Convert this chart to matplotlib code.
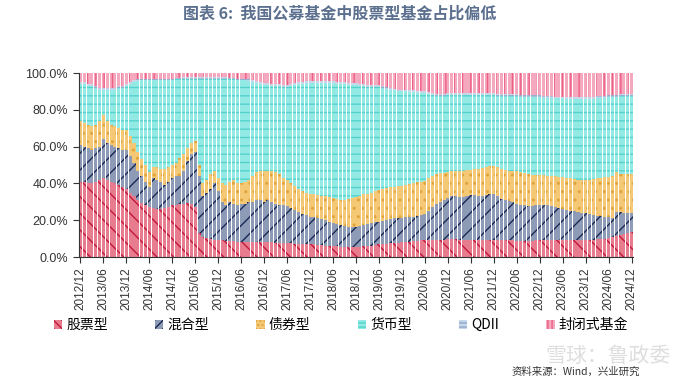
import numpy as np
import matplotlib.pyplot as plt
from matplotlib.patches import Patch

plt.rcParams['font.family'] = ['Noto Sans CJK SC', 'DejaVu Sans']
plt.rcParams['hatch.linewidth'] = 1.0

# monthly share (%) of each fund type, 2012/12 .. 2024/12 (145 months)
stock = [41, 41, 40, 40, 41, 42, 43, 42, 41, 40, 39, 38, 37,
         35, 33, 31, 29.5, 28, 27, 26.5, 26, 26, 26.5, 27, 28,
         28.5, 29, 29, 29.5, 29, 27, 13, 11, 10.5, 10, 9.5, 9.5,
         9, 8.5, 8.5, 8.5, 8, 8, 8, 8, 8, 8, 8, 8,
         8, 8, 7.5, 7.5, 7.5, 7.5, 7.5, 7, 7, 7, 7, 7,
         7, 6.5, 6.5, 6, 6, 6, 6, 5.5, 5.5, 5.5, 5.5, 5.5,
         5.5, 6, 6, 6, 6.5, 7, 7, 7, 7.5, 7.5, 7.5, 8,
         8, 8, 8.5, 8.5, 9, 9, 9, 9.5, 9.5, 9.5, 9.5, 10,
         10, 10, 9.5, 9.5, 9.5, 9.5, 9.5, 9.5, 9.5, 9.5, 9.5, 9.5,
         9.5, 9, 9, 9, 9, 8.5, 8.5, 8.5, 8.5, 8.5, 9, 9,
         9, 9, 9, 9, 9, 9.2, 9.2, 9.2, 9.2, 9.2, 9.2, 9.2,
         9.5, 9.5, 10, 10, 10, 10.5, 11, 11.5, 12, 12.5, 13, 13.5]
mixed = [20, 19, 19, 18, 18, 18, 21, 20, 20, 20, 20, 20, 21,
         20, 18, 16, 14.5, 13, 11, 16.5, 16, 15, 12.5, 14, 15,
         15.5, 15, 18, 22.5, 27, 30, 31, 22, 24.5, 27, 30.5, 26.5,
         21, 19.5, 21.5, 20.5, 20, 21, 21, 22, 22, 23, 23, 22,
         23, 22, 21.5, 21, 20.5, 20, 19, 18.5, 17.5, 16.5, 16, 15,
         14.5, 14.5, 14, 14, 13, 12.5, 12, 12, 11.5, 11, 11, 11,
         11.5, 11.5, 12, 12.5, 12.5, 12, 12.5, 13, 13, 13.5, 13.5, 13,
         13.5, 13.5, 13.5, 14, 14, 14.5, 16, 17.5, 19.5, 20.5, 21.5, 22,
         23, 23, 23, 23, 23.5, 24, 24, 23.5, 23.5, 24, 24.5, 24.5,
         23.5, 22.5, 22, 21.5, 21, 20.5, 20, 19.5, 19, 19, 19, 19.5,
         19.5, 19, 18.5, 18, 17.5, 16.8, 16.3, 15.8, 15.8, 15.3, 14.8, 14.5,
         14, 13.5, 12.5, 12.5, 12, 11, 10, 13, 12.5, 11.5, 11, 10.5]
bond = [13, 13, 13, 13, 13, 14, 13, 12, 11, 11, 11, 11, 11,
        11, 11, 10, 9, 9, 8, 6, 7, 7, 9, 8, 7,
        7, 10, 9, 7, 6, 6, 6, 7, 7, 8, 7, 7,
        10, 11, 11, 13, 12, 11, 12, 12, 14, 15, 16, 17,
        16, 17, 17, 16.5, 15, 14.5, 13.5, 13, 12.5, 12.5, 12, 12.5,
        12.5, 12.5, 12.5, 13, 13.5, 13.5, 13.5, 13.5, 14, 15, 15.5, 16,
        16, 16.5, 16.5, 16.5, 17, 17.5, 17.5, 17.5, 17.5, 17, 17.5, 17.5,
        17.5, 18, 18, 18, 18, 18, 18, 17, 16, 15.5, 14.5, 14,
        13.5, 14, 14.5, 14.5, 14.5, 14, 14.5, 15, 15.5, 15.5, 15.5, 15.5,
        16, 16.5, 16.5, 16.5, 16.5, 17.5, 17.5, 17.5, 17.5, 17, 16.5, 16,
        16, 16, 16.5, 17, 17, 17.5, 17.5, 18, 17.5, 17.5, 18, 18.3,
        18.5, 19.5, 20.5, 20.5, 21.5, 22, 23, 21.5, 20.5, 21, 21, 21]
money = [20, 21, 21, 22, 20, 17, 14, 17, 19, 20, 22, 23, 24,
         28, 33, 38.5, 43, 46, 50, 47, 47, 48, 48, 47, 46,
         45.5, 42.5, 41, 38, 35, 34, 47, 57, 55, 52, 50, 54,
         57, 58, 55.5, 54.5, 56, 56, 55, 53.5, 51, 48.5, 47, 46.5,
         46.5, 46, 47, 48, 49.5, 50.5, 53, 55, 57, 58, 59.5, 60,
         60.5, 61, 61.5, 61.5, 62, 62.5, 62.5, 63, 63, 62, 61.5, 61,
         60, 59, 58, 57.5, 56.5, 56, 55, 54, 53, 52.5, 51.5, 51.5,
         51, 50, 49.5, 48.5, 48, 47.5, 45.5, 44, 42.5, 42, 42, 42,
         41.5, 41, 41, 41, 40.5, 40.5, 40, 40, 39.5, 39, 38.5, 38.5,
         38.5, 39.5, 40, 40.5, 41, 41, 41, 41.5, 42, 42.5, 42.3, 42.3,
         42, 42.5, 42.5, 42.2, 42.7, 42.7, 43, 43, 43.5, 43.8, 43.8, 43.7,
         44, 43.5, 43.5, 43.5, 43, 43.5, 43, 41, 42.5, 42.5, 42.5, 42.5]
qdii = [1, 1, 1, 1, 1, 1, 1, 1, 1, 1, 1, 1, 1,
        1, 1, 1, 1, 1, 1, 1, 1, 1, 1, 1, 1,
        1, 1, 1, 1, 1, 1, 1, 1, 1, 1, 1, 1,
        1, 1, 1, 1, 1, 1, 1, 1, 1, 1, 1, 1,
        1, 1, 1, 1, 1, 1, 1, 1, 1, 1, 1, 1,
        1, 1, 1, 1, 1, 1, 1, 1, 1, 1, 1, 1,
        1, 1, 1, 1, 1, 1, 1, 1, 1, 1, 1, 1,
        1, 1, 1, 1, 1, 1, 1, 1, 1, 1, 1, 1,
        1, 1, 1, 1, 1, 1, 1, 1, 1, 1, 1, 1,
        1, 1, 1, 1, 1, 1, 1, 1, 1, 1, 1, 1,
        1, 1, 1, 1, 1, 1, 1, 1, 1, 1, 1, 1,
        1, 1, 1, 1, 1, 1, 1, 1, 1, 1, 1, 1]
closed = [5, 5, 6, 6, 7, 8, 8, 8, 8, 8, 7, 7, 6,
          5, 4, 3.5, 3, 3, 3, 3, 3, 3, 3, 3, 3,
          2.5, 2.5, 2, 2, 2, 2, 2, 2, 2, 2, 2, 2,
          2, 2, 2.5, 2.5, 3, 3, 3, 3.5, 4, 4.5, 5, 5.5,
          5.5, 6, 6, 6, 6.5, 6.5, 6, 5.5, 5, 5, 4.5, 4.5,
          4.5, 4.5, 4.5, 4.5, 4.5, 4.5, 5, 5, 5, 5.5, 5.5, 5.5,
          6, 6, 6.5, 6.5, 6.5, 6.5, 7, 7.5, 8, 8.5, 9, 9,
          9, 9.5, 9.5, 10, 10, 10, 10.5, 11, 11.5, 11.5, 11.5, 11,
          11, 11, 11, 11, 11, 11, 11, 11, 11, 11, 11, 11,
          11.5, 11.5, 11.5, 11.5, 11.5, 11.5, 12, 12, 12, 12, 12.2, 12.2,
          12.5, 12.5, 12.5, 12.8, 12.8, 12.8, 13, 13, 13, 13.2, 13.2, 13.3,
          13, 13, 12.5, 12.5, 12.5, 12, 12, 12, 11.5, 11.5, 11.5, 11.5]

tick_labels = ['2012/12', '2013/06', '2013/12', '2014/06', '2014/12', '2015/06',
               '2015/12', '2016/06', '2016/12', '2017/06', '2017/12', '2018/06',
               '2018/12', '2019/06', '2019/12', '2020/06', '2020/12', '2021/06',
               '2021/12', '2022/06', '2022/12', '2023/06', '2023/12', '2024/06',
               '2024/12']

names = ['股票型', '混合型', '债券型', '货币型', 'QDII', '封闭式基金']
series = [stock, mixed, bond, money, qdii, closed]
faces = ['#E87C8F', '#8E9BB6', '#F4C874', '#93EAE4', '#C8D6EA', '#F5A9BE']
hatch_cols = ['#C4183A', '#1B2A55', '#E0A43C', '#52D2CA', '#8FA8CC', '#EE5F84']
hatches = ['\\\\', '//', '..', '--', '--', '||']

fig = plt.figure(figsize=(7, 3.85), dpi=100)
ax = fig.add_axes([78.5 / 700, 128 / 385, 555 / 700, 184 / 385])

x = np.arange(len(stock))
bottom = np.zeros(len(stock))
for vals, fc, hc, h in zip(series, faces, hatch_cols, hatches):
    vals = np.array(vals, dtype=float)
    ax.bar(x, vals, width=0.8, bottom=bottom, facecolor=fc, edgecolor=hc,
           hatch=h, linewidth=0)
    bottom += vals

ax.set_xlim(-0.5, len(stock) - 0.5)
ax.set_ylim(0, 100)
ax.set_yticks(np.arange(0, 101, 20))
ax.set_yticklabels([f'{v:.1f}%' for v in np.arange(0, 101, 20)],
                   fontsize=9, family='Liberation Sans', color='#333333')
ax.set_xticks(np.arange(0, len(stock), 6))
ax.set_xticklabels(tick_labels, rotation=90, fontsize=8.5,
                   family='Liberation Sans', color='#333333')
ax.tick_params(axis='both', length=4, width=0.8, color='#333333')
for s in ['top', 'right']:
    ax.spines[s].set_visible(False)
for s in ['left', 'bottom']:
    ax.spines[s].set_color('#333333')
    ax.spines[s].set_linewidth(0.8)

handles = [Patch(facecolor=fc, edgecolor=hc, hatch=h * 2, linewidth=0)
           for fc, hc, h in zip(faces, hatch_cols, hatches)]
fig.legend(handles, names, ncol=6, loc='center left',
           bbox_to_anchor=(48 / 700, 1 - 325 / 385), frameon=False,
           fontsize=10, handlelength=0.6, handleheight=0.6,
           handletextpad=0.3, columnspacing=3.4, borderaxespad=0)

fig.text(0.485, 1 - 14 / 385, '图表 6:  我国公募基金中股票型基金占比偏低',
         ha='center', va='center', fontsize=11.5, fontweight='bold',
         color='#5B6F8E')
fig.text(608 / 700, 1 - 356 / 385, '雪球：鲁政委', ha='center', va='center',
         fontsize=15, color='#DEDEDE')
fig.text(640 / 700, 1 - 372 / 385, '资料来源：Wind，兴业研究', ha='right',
         va='center', fontsize=7.5, color='#333333')

fig.savefig('out.png', dpi=100)
